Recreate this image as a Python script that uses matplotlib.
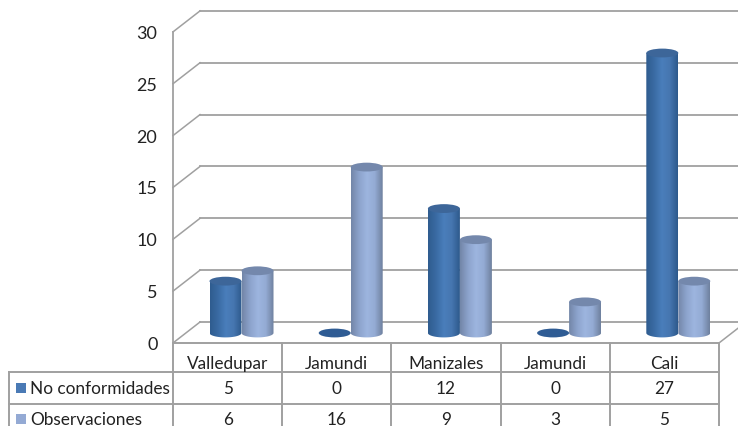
import numpy as np
import matplotlib
matplotlib.use('Agg')
import matplotlib.pyplot as plt
from matplotlib.colors import LinearSegmentedColormap
from matplotlib.patches import Ellipse, PathPatch, Rectangle
from matplotlib.path import Path

plt.rcParams['font.family'] = ['Lato', 'DejaVu Sans']

categories = ['Valledupar', 'Jamundi', 'Manizales', 'Jamundi', 'Cali']
no_conformidades = [5, 0, 12, 0, 27]
observaciones = [6, 16, 9, 3, 5]
y_ticks = [0, 5, 10, 15, 20, 25, 30]

# layout, in data units
bar_w = 0.293
ell_h = 0.85
front_y = -0.96
back_y = 1.06
left_x = -0.627
back_x = -0.38
table_left = -2.13
row_y = [-3.78, -6.85, -9.3]
grid_c = '#A0A0A0'
text_c = '#222222'

dark_map = LinearSegmentedColormap.from_list('d', ['#2F5C8F', '#3A6BA3', '#4A7EBB', '#4676B0', '#2E5A8C'])
light_map = LinearSegmentedColormap.from_list('l', ['#7386A8', '#8CA3CC', '#9DB5DF', '#94ABD4', '#6F819F'])
dark_top = '#3D6699'
light_top = '#7488AC'

fig = plt.figure(figsize=(7.38, 4.27), dpi=100)
ax = fig.add_axes([0, 0, 1, 1])
ax.axis('off')


def cylinder(cx, v, cmap, top_c):
    if v == 0:
        ax.add_patch(Ellipse((cx, 0), bar_w, ell_h, fc='#2F5C94', ec='none', zorder=3))
        return
    a = bar_w / 2
    t = np.linspace(np.pi, 2 * np.pi, 40)
    pts = [(cx - a, v)] + list(zip(cx + a * np.cos(t), ell_h / 2 * np.sin(t))) + [(cx + a, v), (cx - a, v)]
    body = PathPatch(Path(pts), fc='none', ec='none', zorder=3)
    ax.add_patch(body)
    grad = np.linspace(0, 1, 64).reshape(1, -1)
    im = ax.imshow(grad, cmap=cmap, aspect='auto', zorder=3,
                   extent=[cx - a, cx + a, -ell_h, v])
    im.set_clip_path(body)
    ax.add_patch(Ellipse((cx, v), bar_w, ell_h, fc=top_c, ec='none', zorder=3))


# walls and gridlines
for v in y_ticks:
    ax.plot([back_x, 4.62], [v + back_y, v + back_y], color=grid_c, lw=1.3, zorder=1)
    ax.plot([left_x, back_x], [v + front_y, v + back_y], color=grid_c, lw=1.1, zorder=1)
    ax.text(-0.77, v + front_y - 0.1, str(v), ha='right', va='center', fontsize=13, color=text_c)
ax.plot([left_x, left_x], [front_y, 30 + front_y], color=grid_c, lw=1.3, zorder=1)
ax.plot([4.373, 4.62], [front_y, back_y], color=grid_c, lw=1.1, zorder=1)

for i in range(len(categories)):
    cylinder(i - bar_w / 2, no_conformidades[i], dark_map, dark_top)
    cylinder(i + bar_w / 2, observaciones[i], light_map, light_top)

# data table
n = len(categories)
ax.plot([left_x, left_x + n], [front_y, front_y], color=grid_c, lw=1.4, zorder=2)
for i in range(n + 1):
    ax.plot([left_x + i, left_x + i], [front_y, row_y[2]], color=grid_c, lw=1.4, zorder=2)
for r in row_y[:2]:
    ax.plot([table_left, left_x + n], [r, r], color=grid_c, lw=1.4, zorder=2)
ax.plot([table_left, table_left], [row_y[0], row_y[2]], color=grid_c, lw=1.4, zorder=2)

for i in range(n):
    cx = left_x + i + 0.5
    ax.text(cx, -2.85, categories[i], ha='center', va='center', fontsize=12.4, color=text_c)
    ax.text(cx, -5.3, str(no_conformidades[i]), ha='center', va='center', fontsize=12.4, color=text_c)
    ax.text(cx, -8.25, str(observaciones[i]), ha='center', va='center', fontsize=12.4, color=text_c)

ax.add_patch(Rectangle((-2.065, -5.75), 0.09, 0.95, fc='#4A7AB5', ec='none', zorder=3))
ax.add_patch(Rectangle((-2.065, -8.75), 0.09, 0.95, fc='#94AAD4', ec='none', zorder=3))
ax.text(-1.935, -5.3, 'No conformidades', ha='left', va='center', fontsize=12.4, color=text_c)
ax.text(-1.935, -8.25, 'Observaciones', ha='left', va='center', fontsize=12.4, color=text_c)

ax.set_xlim(-241.5 / 109.2, (738 - 241.5) / 109.2)
ax.set_ylim((334 - 427) / 10.37, 334 / 10.37)

fig.savefig('out.png', dpi=100)
